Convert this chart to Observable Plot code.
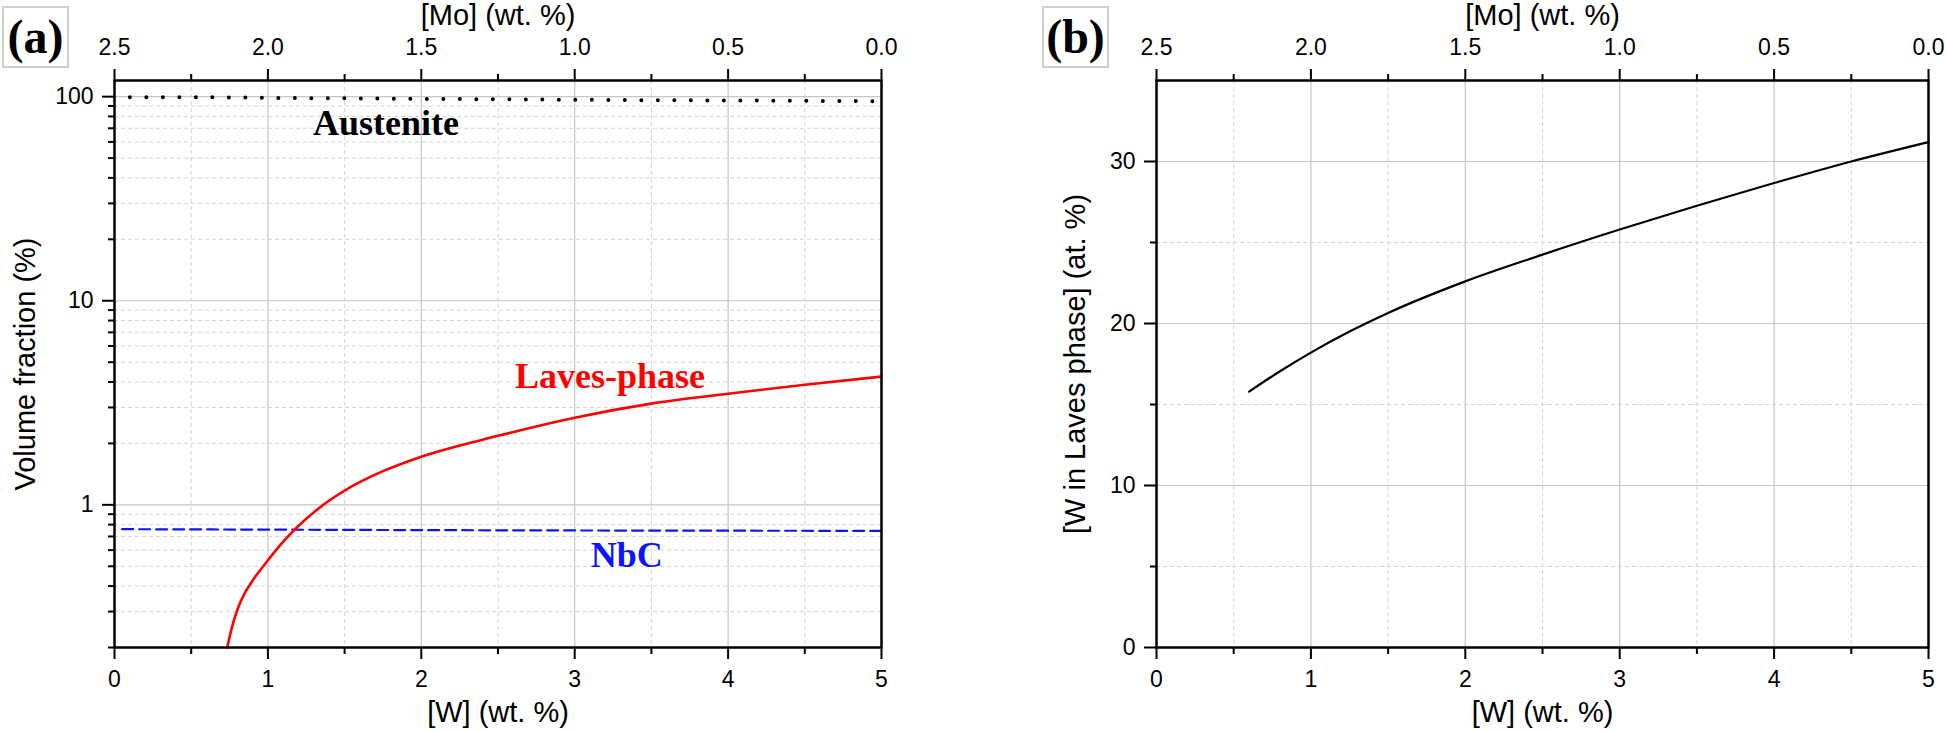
<!DOCTYPE html>
<html>
<head>
<meta charset="utf-8">
<script src="https://cdn.jsdelivr.net/npm/d3@7"></script>
<script src="https://cdn.jsdelivr.net/npm/@observablehq/plot@0.6"></script>
<style>
  html, body { margin: 0; padding: 0; background: #fff; }
  #root { position: relative; width: 1946px; height: 731px; overflow: hidden; background: #fff; }
  .panel { position: absolute; top: 0; }
  .tag { position: absolute; box-sizing: border-box; border: 2px solid #cfcfcf; background: #fff;
         font-family: "Liberation Serif", "Times New Roman", serif; font-weight: bold; font-size: 48px;
         line-height: 58px; text-align: center; width: 67px; height: 62px; }
</style>
</head>
<body>
<div id="root">
  <div id="pa" class="panel" style="left:0px"></div>
  <div id="pb" class="panel" style="left:980px"></div>
  <div class="tag" style="left:2px; top:6px">(a)</div>
  <div class="tag" style="left:1042px; top:6px">(b)</div>
</div>
<script>
// ---------- data ----------
// Panel (a): volume fractions (%) vs [W] (wt. %)
const lavesW   = [0.735, 0.76, 0.80, 0.85, 0.90, 1.00, 1.10, 1.20, 1.30, 1.40, 1.50, 1.75, 2.00, 2.50, 3.00, 3.50, 4.00, 4.50, 5.00];
const lavesVF  = [0.200, 0.242, 0.305, 0.370, 0.425, 0.535, 0.660, 0.790, 0.920, 1.050, 1.175, 1.462, 1.722, 2.178, 2.673, 3.133, 3.50, 3.88, 4.25];
const nbcW     = [0.05, 1.0, 2.0, 3.0, 4.0, 5.0];
const nbcVF    = [0.760, 0.756, 0.752, 0.749, 0.747, 0.746];
const austW    = [0.10, 0.50, 0.735, 1.00, 1.50, 2.00, 2.50, 3.00, 3.50, 4.00, 4.50, 5.00];
const austVF   = [99.25, 99.25, 99.2, 98.7, 98.1, 97.5, 97.1, 96.6, 96.1, 95.8, 95.4, 95.0];
// Panel (b): W content of the Laves phase (at. %)
const wInLavesW = [0.60, 0.80, 1.00, 1.25, 1.50, 2.00, 2.50, 3.00, 3.50, 4.00, 4.50, 5.00];
const wInLaves  = [15.8, 17.05, 18.2, 19.5, 20.65, 22.6, 24.25, 25.8, 27.27, 28.67, 30.0, 31.2];

// ---------- ticks ----------
const wTicks   = [0, 1, 2, 3, 4, 5];
const wMinor   = [0.5, 1.5, 2.5, 3.5, 4.5];
const moTicks  = [2.5, 2.0, 1.5, 1.0, 0.5, 0.0];
const moMinor  = [2.25, 1.75, 1.25, 0.75, 0.25];
const yTicksA  = [1, 10, 100];
const yMinorA  = [0.2,0.3,0.4,0.5,0.6,0.7,0.8,0.9, 2,3,4,5,6,7,8,9, 20,30,40,50,60,70,80,90];
const yTicksB  = [0, 10, 20, 30];
const yMinorB  = [5, 15, 25];

// [Mo] top axis: [Mo] = 2.5 − [W]/2 in this alloy series
const moToW = m => (2.5 - m) * 2;
const moPos = moTicks.map(moToW);
const moLabel = d => moTicks[moPos.indexOf(d)].toFixed(1);

const SANS = "'Liberation Sans', Arial, Helvetica, sans-serif";
const SERIF = "'Liberation Serif', 'Times New Roman', serif";
const TICK_FS = 23, TITLE_FS = 29;

function frameMarks(opts) {
  const {yTicks, yMinor, yLabel, yLabelOffset, yFormat} = opts;
  const gridMinor = {stroke: "#d4d4d4", strokeOpacity: 1, strokeWidth: 1, strokeDasharray: "4,3"};
  const gridMajor = {stroke: "#c6c6c6", strokeOpacity: 1, strokeWidth: 1.2};
  const tk = {strokeWidth: 2, fontSize: TICK_FS};
  return {
    grids: [
      Plot.gridX(wMinor, gridMinor),
      Plot.gridY(yMinor, gridMinor),
      Plot.gridX([1, 2, 3, 4], gridMajor),
      Plot.gridY(yTicks.filter(d => d > 0), gridMajor)
    ],
    axes: [
      Plot.frame({stroke: "black", strokeWidth: 2.5}),
      Plot.axisX(wTicks, {...tk, anchor: "bottom", tickSize: 12, tickPadding: 11, tickFormat: d => String(d),
        label: "[W] (wt. %)", labelAnchor: "center", labelArrow: "none", labelOffset: 74}),
      Plot.axisX(wMinor, {...tk, anchor: "bottom", tickSize: 7, tickFormat: () => "", label: null}),
      Plot.axisX(moPos, {...tk, anchor: "top", tickSize: 12, tickPadding: 14, tickFormat: moLabel,
        label: "[Mo] (wt. %)", labelAnchor: "center", labelArrow: "none", labelOffset: 76}),
      Plot.axisX(moMinor.map(moToW), {...tk, anchor: "top", tickSize: 7, tickFormat: () => "", label: null}),
      Plot.axisY(yTicks, {...tk, anchor: "left", tickSize: 12, tickPadding: 9, tickFormat: yFormat,
        label: yLabel, labelAnchor: "center", labelArrow: "none", labelOffset: yLabelOffset}),
      Plot.axisY(yMinor, {...tk, anchor: "left", tickSize: 6, tickFormat: () => "", label: null})
    ]
  };
}

function titleFont(svg) {
  svg.querySelectorAll("g[aria-label='x-axis label'] text, g[aria-label='y-axis label'] text")
     .forEach(t => t.setAttribute("font-size", TITLE_FS));
  return svg;
}

// ---------- panel (a) ----------
const fa = frameMarks({yTicks: yTicksA, yMinor: yMinorA, yLabel: "Volume fraction (%)", yLabelOffset: 100,
                       yFormat: d => String(d)});
const plotA = Plot.plot({
  width: 960, height: 731,
  marginLeft: 114, marginRight: 79, marginTop: 80, marginBottom: 84,
  style: {fontFamily: SANS, fontSize: TICK_FS + "px", color: "black", background: "transparent", overflow: "visible"},
  x: {domain: [0, 5]},
  y: {type: "log", domain: [0.2, 120]},
  marks: [
    ...fa.grids,
    Plot.line(austVF, {x: austW, y: austVF, stroke: "black", strokeWidth: 4, strokeDasharray: "0,16.5", strokeLinecap: "round", curve: "monotone-x"}),
    Plot.line(nbcVF, {x: nbcW, y: nbcVF, stroke: "#0a14ff", strokeWidth: 2.2, strokeDasharray: "11,6", curve: "monotone-x"}),
    Plot.line(lavesVF, {x: lavesW, y: lavesVF, stroke: "#ff0000", strokeWidth: 2.6, curve: "monotone-x"}),
    ...fa.axes,
    Plot.text(["Austenite"], {x: 1.77, y: 73.5, text: d => d, fill: "black", fontFamily: SERIF, fontWeight: "bold", fontSize: 36}),
    Plot.text(["Laves-phase"], {x: 3.23, y: 4.26, text: d => d, fill: "#ff0000", fontFamily: SERIF, fontWeight: "bold", fontSize: 36}),
    Plot.text(["NbC"], {x: 3.34, y: 0.562, text: d => d, fill: "#0a14ff", fontFamily: SERIF, fontWeight: "bold", fontSize: 36})
  ]
});
document.getElementById("pa").appendChild(titleFont(plotA));

// ---------- panel (b) ----------
const fb = frameMarks({yTicks: yTicksB, yMinor: yMinorB, yLabel: "[W in Laves phase] (at. %)", yLabelOffset: 92,
                       yFormat: d => String(d)});
const plotB = Plot.plot({
  width: 966, height: 731,
  marginLeft: 176, marginRight: 18, marginTop: 80, marginBottom: 84,
  style: {fontFamily: SANS, fontSize: TICK_FS + "px", color: "black", background: "transparent", overflow: "visible"},
  x: {domain: [0, 5]},
  y: {domain: [0, 35]},
  marks: [
    ...fb.grids,
    Plot.line(wInLaves, {x: wInLavesW, y: wInLaves, stroke: "black", strokeWidth: 2.2, curve: "monotone-x"}),
    ...fb.axes
  ]
});
document.getElementById("pb").appendChild(titleFont(plotB));
</script>
</body>
</html>
